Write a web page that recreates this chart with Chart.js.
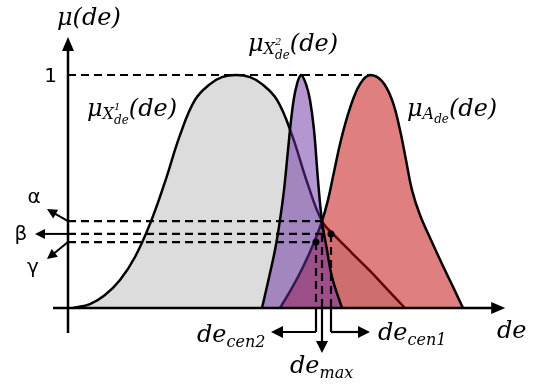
<!DOCTYPE html>
<html>
<head>
<meta charset="utf-8">
<script src="https://cdn.jsdelivr.net/npm/chart.js@4/dist/chart.umd.min.js"></script>
<style>
  html, body { margin: 0; padding: 0; background: #fff; }
  canvas { display: block; }
</style>
</head>
<body>
<canvas id="chart" width="539" height="392"></canvas>
<script>
// membership curves: de along x, mu along y
const grayDe = [0.125, 0.55, 0.925, 1.3, 1.675, 2.05, 2.425, 2.8, 3.175, 3.55, 3.85, 4.2, 4.55, 4.85, 5.225, 5.6, 5.975, 6.35, 6.7, 7.1, 7.55, 8.0, 8.425]
const grayMu = [0, 0.017, 0.056, 0.12, 0.219, 0.361, 0.541, 0.742, 0.893, 0.961, 0.991, 1, 0.991, 0.961, 0.893, 0.742, 0.541, 0.373, 0.305, 0.236, 0.159, 0.077, 0]

const purpleDe = [4.85, 5.0, 5.175, 5.3, 5.4, 5.5, 5.6, 5.7, 5.825, 5.95, 6.05, 6.15, 6.25, 6.35, 6.475, 6.6, 6.85]
const purpleMu = [0, 0.112, 0.249, 0.378, 0.506, 0.678, 0.841, 0.944, 1, 0.961, 0.893, 0.764, 0.549, 0.373, 0.249, 0.133, 0]

const redDe = [5.3, 5.6, 5.875, 6.125, 6.35, 6.5, 6.65, 6.825, 7.05, 7.3, 7.55, 7.85, 8.1, 8.3, 8.45, 8.6, 8.8, 9.075, 9.375, 9.65, 9.875]
const redMu = [0, 0.086, 0.176, 0.27, 0.373, 0.464, 0.584, 0.721, 0.858, 0.961, 1, 0.974, 0.893, 0.764, 0.635, 0.506, 0.399, 0.292, 0.18, 0.082, 0]

// cut levels and where their guide lines stop
const levelNames = ["α", "β", "γ"]
const levelMu = [0.373, 0.318, 0.283]
const levelDe = [6.35, 6.575, 6.2]

const peakMu = 1
const peakDe = 7.55

// defuzzified points below the axis
const cenNames = ["cen2", "max", "cen1"]
const cenDe = [6.2, 6.35, 6.575]

const toPoints = (xs, ys) => xs.map((x, i) => ({ x, y: ys[i] }))

const curve = (de, mu, color, order) => ({
  data: toPoints(de, mu),
  borderColor: "#000",
  borderWidth: 2.5,
  backgroundColor: color,
  fill: "origin",
  tension: 0.4,
  pointRadius: 0,
  order,
  clip: false
})

const dashed = points => ({
  data: points,
  borderColor: "#000",
  borderWidth: 2.2,
  borderDash: [8, 5],
  fill: false,
  pointRadius: 0,
  order: 0,
  clip: false
})

const guides = [dashed([{ x: 0, y: peakMu }, { x: peakDe, y: peakMu }])]
levelMu.forEach((mu, i) => {
  guides.push(dashed([{ x: 0, y: mu }, { x: levelDe[i], y: mu }]))
  guides.push(dashed([{ x: levelDe[i], y: mu }, { x: levelDe[i], y: 0 }]))
})

const dots = {
  data: toPoints(levelDe.slice(1), levelMu.slice(1)),
  showLine: false,
  pointRadius: 3.5,
  pointBackgroundColor: "#000",
  pointBorderWidth: 0,
  order: 0,
  clip: false
}

function arrow(ctx, x1, y1, x2, y2, len = 12, half = 6) {
  const a = Math.atan2(y2 - y1, x2 - x1)
  const c = Math.cos(a), s = Math.sin(a)
  ctx.beginPath()
  ctx.moveTo(x1, y1)
  ctx.lineTo(x2 - c * len * 0.7, y2 - s * len * 0.7)
  ctx.stroke()
  ctx.beginPath()
  ctx.moveTo(x2, y2)
  ctx.lineTo(x2 - len * c + half * s, y2 - len * s - half * c)
  ctx.lineTo(x2 - len * c - half * s, y2 - len * s + half * c)
  ctx.closePath()
  ctx.fill()
}

// little math typesetter: [text, size, dy, keepX]
function mathText(ctx, x, y, parts) {
  parts.forEach(([t, size, dy = 0, hold = false]) => {
    ctx.font = `italic ${size}px "DejaVu Serif"`
    ctx.fillText(t, x, y + dy)
    if (!hold) x += ctx.measureText(t).width
  })
}

const decor = {
  id: "decor",
  afterDatasetsDraw(chart) {
    const { ctx, scales } = chart
    const sx = scales.x, sy = scales.y
    const ox = sx.getPixelForValue(0)
    const base = sy.getPixelForValue(0)
    const top = sy.getPixelForValue(1)

    ctx.save()
    ctx.strokeStyle = "#000"
    ctx.fillStyle = "#000"
    ctx.lineWidth = 2.5
    ctx.setLineDash([])

    // axes
    arrow(ctx, ox, base + 25, ox, top - 38, 14, 6)
    arrow(ctx, ox - 15, base, sx.getPixelForValue(10.93), base, 14, 6)

    // level arrows
    ctx.lineWidth = 2
    const ly = levelMu.map(v => sy.getPixelForValue(v))
    arrow(ctx, ox, ly[0], ox - 21, ly[0] - 12, 10, 5)
    arrow(ctx, ox, ly[1], ox - 33, ly[1], 10, 5)
    arrow(ctx, ox, ly[2], ox - 21, ly[2] + 17, 10, 5)

    ctx.font = '20px "DejaVu Sans"'
    ctx.textAlign = "center"
    ctx.textBaseline = "middle"
    ctx.fillText(levelNames[0], ox - 34, ly[0] - 23)
    ctx.fillText(levelNames[1], ox - 47, ly[1] + 1)
    ctx.fillText(levelNames[2], ox - 35, ly[2] + 26)
    ctx.textAlign = "right"
    ctx.fillText("1", ox - 11, top + 2)

    // connectors under the axis
    const [xl, xm, xr] = cenDe.map(v => sx.getPixelForValue(v))
    ctx.lineWidth = 2.2
    ctx.beginPath()
    ctx.moveTo(xl, base)
    ctx.lineTo(xl, base + 24)
    ctx.moveTo(xr, base)
    ctx.lineTo(xr, base + 24)
    ctx.stroke()
    arrow(ctx, xl, base + 24, xl - 45, base + 24, 12, 6)
    arrow(ctx, xm, base, xm, base + 45, 12, 6)
    arrow(ctx, xr, base + 24, xr + 39, base + 24, 12, 6)

    // labels
    ctx.textAlign = "left"
    ctx.textBaseline = "alphabetic"
    mathText(ctx, 57, 25, [["μ(de)", 24]])
    mathText(ctx, 87, 116, [["μ", 24], ["X", 16, 3], ["1", 10, -6, true], ["de", 12, 8], ["(de)", 24]])
    mathText(ctx, 248, 51, [["μ", 24], ["X", 16, 3], ["2", 10, -6, true], ["de", 12, 8], ["(de)", 24]])
    mathText(ctx, 407, 116, [["μ", 24], ["A", 16, 3], ["de", 12, 7], ["(de)", 24]])
    mathText(ctx, 197, 342, [["de", 24], [cenNames[0], 16, 5]])
    mathText(ctx, 290, 373, [["de", 24], [cenNames[1], 16, 5]])
    mathText(ctx, 378, 340, [["de", 24], [cenNames[2], 16, 5]])
    mathText(ctx, 497, 338, [["de", 24]])
    ctx.restore()
  }
}

new Chart(document.getElementById("chart"), {
  type: "line",
  data: {
    datasets: [
      curve(grayDe, grayMu, "rgb(220,220,220)", 3),
      curve(redDe, redMu, "rgba(191,0,0,0.5)", 2),
      curve(purpleDe, purpleMu, "rgba(105,47,163,0.5)", 1),
      ...guides,
      dots
    ]
  },
  options: {
    responsive: false,
    animation: false,
    devicePixelRatio: 1,
    events: [],
    layout: { padding: { left: 68, right: 31, top: 75, bottom: 84 } },
    scales: {
      x: { type: "linear", min: 0, max: 11, display: false },
      y: { min: 0, max: 1, display: false }
    },
    plugins: { legend: { display: false }, tooltip: { enabled: false } }
  },
  plugins: [decor]
})
</script>
</body>
</html>
